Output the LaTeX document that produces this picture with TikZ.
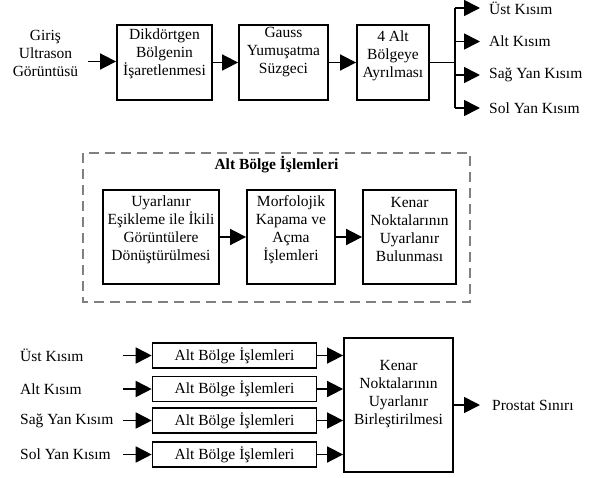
\documentclass[tikz,border=0pt]{standalone}
\usepackage{fontspec}
\setmainfont{Liberation Serif}
\usetikzlibrary{arrows.meta}
\begin{document}
\begin{tikzpicture}[x=1pt,y=-1pt,
  every node/.style={font=\fontsize{15.5}{18}\selectfont, inner sep=0pt},
  box/.style={draw, line width=1.8pt, rectangle},
  txt/.style={align=center},
  arr/.style={line width=1.7pt, -{Triangle[length=16pt,width=16pt]}},
  ln/.style={line width=1.7pt},
  dbox/.style={draw=gray, dash pattern=on 10pt off 6pt, line width=2pt}]
\useasboundingbox (0,0) rectangle (592,477);

% ---- top row
\node[txt] (inp) at (45.5,53.5) {Giriş\\Ultrason\\Görüntüsü};
\coordinate (inpout) at (88,61.5);
\node[box, minimum width=95pt, minimum height=75pt] (b1) at (164.5,62.5) {};
\node[txt] (b1t) at (164.5,53.5) {Dikdörtgen\\Bölgenin\\İşaretlenmesi};
\node[box, minimum width=89pt, minimum height=75pt] (b2) at (283.5,62.5) {};
\node[txt] (b2t) at (283.5,52) {Gauss\\Yumuşatma\\Süzgeci};
\node[box, minimum width=72pt, minimum height=75pt] (b3) at (393,62.5) {};
\node[txt] (b3t) at (393,55.5) {4 Alt\\Bölgeye\\Ayrılması};
\draw[arr] (inpout) -- (inpout -| b1.west);
\draw[arr] (b1) -- (b2);
\draw[arr] (b2) -- (b3);
\coordinate (junc) at (455,62.5);
\coordinate (jt) at (455,8);
\coordinate (jb) at (455,108);
\draw[ln] (b3.east) -- (junc);
\draw[ln] (jt) -- (jb);
\node[anchor=west, inner xsep=9pt] (l1) at (480,8) {Üst Kısım};
\node[anchor=west, inner xsep=9pt] (l2) at (480,41.5) {Alt Kısım};
\node[anchor=west, inner xsep=9pt] (l3) at (480,75) {Sağ Yan Kısım};
\node[anchor=west, inner xsep=9pt] (l4) at (480,108) {Sol Yan Kısım};
\draw[arr] (jt) -- (l1.west);
\draw[arr] (jt |- l2.west) -- (l2.west);
\draw[arr] (jt |- l3.west) -- (l3.west);
\draw[arr] (jb) -- (l4.west);

% ---- middle dashed group
\draw[dbox] (83,153) rectangle (470,302);
\node[font=\fontsize{15.5}{18}\selectfont\bfseries] (title) at (276.5,165) {Alt Bölge İşlemleri};
\node[box, minimum width=116pt, minimum height=94pt] (ma) at (161,237) {};
\node[txt] (mat) at (161,229.5) {Uyarlanır\\Eşikleme ile İkili\\Görüntülere\\Dönüştürülmesi};
\node[box, minimum width=88pt, minimum height=94pt] (mb) at (291,237) {};
\node[txt] (mbt) at (291,229.5) {Morfolojik\\Kapama ve\\Açma\\İşlemleri};
\node[box, minimum width=93pt, minimum height=94pt] (mc) at (409.5,237) {};
\node[txt] (mct) at (409.5,229.5) {Kenar\\Noktalarının\\Uyarlanır\\Bulunması};
\draw[arr] (ma) -- (mb);
\draw[arr] (mb) -- (mc);

% ---- bottom
\node[box, minimum width=109pt, minimum height=134pt] (big) at (398.5,405) {};
\node[txt] (bigt) at (398.5,394) {Kenar\\Noktalarının\\Uyarlanır\\Birleştirilmesi};
\foreach \i/\y/\lab in {1/355.5/Üst Kısım, 2/389/Alt Kısım, 3/420.5/Sağ Yan Kısım, 4/454.5/Sol Yan Kısım}{
  \node[anchor=west] (bl\i) at (20,\y) {\lab};
  \coordinate (bs\i) at (123,\y);
  \node[box, line width=1.6pt, minimum width=164pt, minimum height=25pt] (sb\i) at (234.5,\y) {Alt Bölge İşlemleri};
  \draw[arr] (bs\i) -- (sb\i.west);
  \draw[arr] (sb\i.east) -- (sb\i.east -| big.west);
}
\node[anchor=west, inner xsep=12pt] (out) at (480,405) {Prostat Sınırı};
\draw[arr] (big.east) -- (out.west);
\end{tikzpicture}
\end{document}
